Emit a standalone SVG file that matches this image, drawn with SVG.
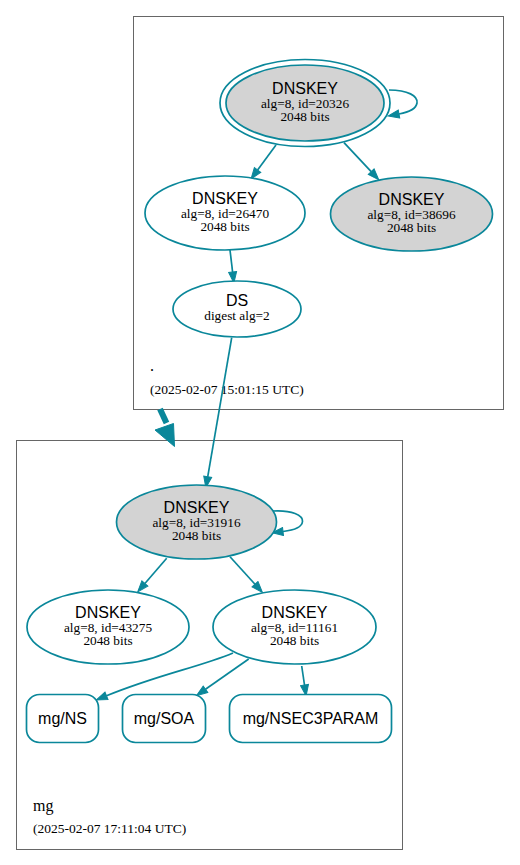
<svg xmlns="http://www.w3.org/2000/svg" width="520" height="865" viewBox="0 0 520 865">
<defs>
<marker id="ah" markerUnits="userSpaceOnUse" markerWidth="13" markerHeight="10" refX="1" refY="4.5" orient="auto" viewBox="0 0 13 9">
<path d="M1,0.5 L12,4.5 L1,8.5 z" fill="#0a879a" stroke="#0a879a" stroke-width="1"/>
</marker>
</defs>
<style>
.cl{fill:#ffffff;stroke:#666666;stroke-width:1}
.n{fill:#ffffff;stroke:#0a879a;stroke-width:1.7}
.g{fill:#d3d3d3}
.e{fill:none;stroke:#0a879a;stroke-width:1.7;marker-end:url(#ah)}
.t{font-family:"Liberation Sans",Arial,sans-serif;font-size:16px;fill:#000;text-anchor:middle}
.s{font-family:"Liberation Serif","Times New Roman",serif;font-size:13.3px;fill:#000;text-anchor:middle}
.lb{font-family:"Liberation Serif","Times New Roman",serif;font-size:13.5px;fill:#000}
.lbb{font-family:"Liberation Serif","Times New Roman",serif;font-size:16px;fill:#000}
</style>
<rect width="520" height="865" fill="#ffffff"/>
<g id="cluster-root">
<rect class="cl" x="133.5" y="16.5" width="370" height="393"/>
<text class="lbb" x="150" y="371">.</text>
<text class="lb" x="150" y="394">(2025-02-07 15:01:15 UTC)</text>
</g>
<g id="cluster-mg">
<rect class="cl" x="16.5" y="440.5" width="386" height="409"/>
<text class="lbb" x="33" y="811">mg</text>
<text class="lb" x="33" y="833">(2025-02-07 17:11:04 UTC)</text>
</g>
<g id="connectors">
<path class="e" d="M389,90 C408,90 418,96 417,103 C416,109 410,112 399,114"/>
<path class="e" d="M276,145 L257.6,170"/>
<path class="e" d="M344,142.7 L371.2,171.7"/>
<path class="e" d="M230,250 L232.6,272"/>
<path class="e" d="M231.7,337.7 L207.7,476.8"/>
<path d="M160,409 L166.5,423" fill="none" stroke="#0a879a" stroke-width="6"/>
<polygon points="155,430 173.5,423.5 174.5,446.5" fill="#0a879a" stroke="#0a879a" stroke-width="1"/>
<path class="e" d="M273,511 C292,510 303,515 302.5,521.5 C302,527 296,530 283,531.5"/>
<path class="e" d="M166.7,558.3 L144.9,583.5"/>
<path class="e" d="M230,556.7 L255,584.2"/>
<path class="e" d="M233,653 C200,667 160,674 106.5,695.8"/>
<path class="e" d="M248.7,659 L205.5,689.3"/>
<path class="e" d="M301.7,666 L304.5,685"/>
</g>
<g id="dnskey-20326">
<ellipse class="n" cx="305" cy="103" rx="85" ry="43.5"/>
<ellipse class="n g" cx="305" cy="103" rx="79" ry="38"/>
<text class="t" x="305" y="93.5">DNSKEY</text>
<text class="s" x="305" y="107.5">alg=8, id=20326</text>
<text class="s" x="305" y="120.5">2048 bits</text>
</g>
<g id="dnskey-26470">
<ellipse class="n" cx="225" cy="213" rx="80" ry="37"/>
<text class="t" x="225" y="203.5">DNSKEY</text>
<text class="s" x="225" y="217.5">alg=8, id=26470</text>
<text class="s" x="225" y="230.5">2048 bits</text>
</g>
<g id="dnskey-38696">
<ellipse class="n g" cx="411.5" cy="214" rx="81" ry="37"/>
<text class="t" x="411.5" y="204.5">DNSKEY</text>
<text class="s" x="411.5" y="218.5">alg=8, id=38696</text>
<text class="s" x="411.5" y="231.5">2048 bits</text>
</g>
<g id="ds-root">
<ellipse class="n" cx="237" cy="309" rx="64" ry="28"/>
<text class="t" x="237" y="305.5">DS</text>
<text class="s" x="237" y="320">digest alg=2</text>
</g>
<g id="dnskey-31916">
<ellipse class="n g" cx="196.5" cy="522" rx="80" ry="37"/>
<text class="t" x="196.5" y="513">DNSKEY</text>
<text class="s" x="196.5" y="527">alg=8, id=31916</text>
<text class="s" x="196.5" y="540">2048 bits</text>
</g>
<g id="dnskey-43275">
<ellipse class="n" cx="108" cy="627" rx="81" ry="37"/>
<text class="t" x="108" y="618">DNSKEY</text>
<text class="s" x="108" y="632">alg=8, id=43275</text>
<text class="s" x="108" y="645">2048 bits</text>
</g>
<g id="dnskey-11161">
<ellipse class="n" cx="294.5" cy="627" rx="81.5" ry="37"/>
<text class="t" x="294.5" y="618">DNSKEY</text>
<text class="s" x="294.5" y="632">alg=8, id=11161</text>
<text class="s" x="294.5" y="645">2048 bits</text>
</g>
<g id="rr-ns">
<rect class="n" x="26.5" y="694.5" width="72" height="48" rx="13"/>
<text class="t" x="62.5" y="724">mg/NS</text>
</g>
<g id="rr-soa">
<rect class="n" x="122.5" y="694.5" width="83" height="48" rx="13"/>
<text class="t" x="164" y="724">mg/SOA</text>
</g>
<g id="rr-nsec3param">
<rect class="n" x="229.5" y="694.5" width="162" height="48" rx="13"/>
<text class="t" x="310.5" y="724">mg/NSEC3PARAM</text>
</g>
</svg>
